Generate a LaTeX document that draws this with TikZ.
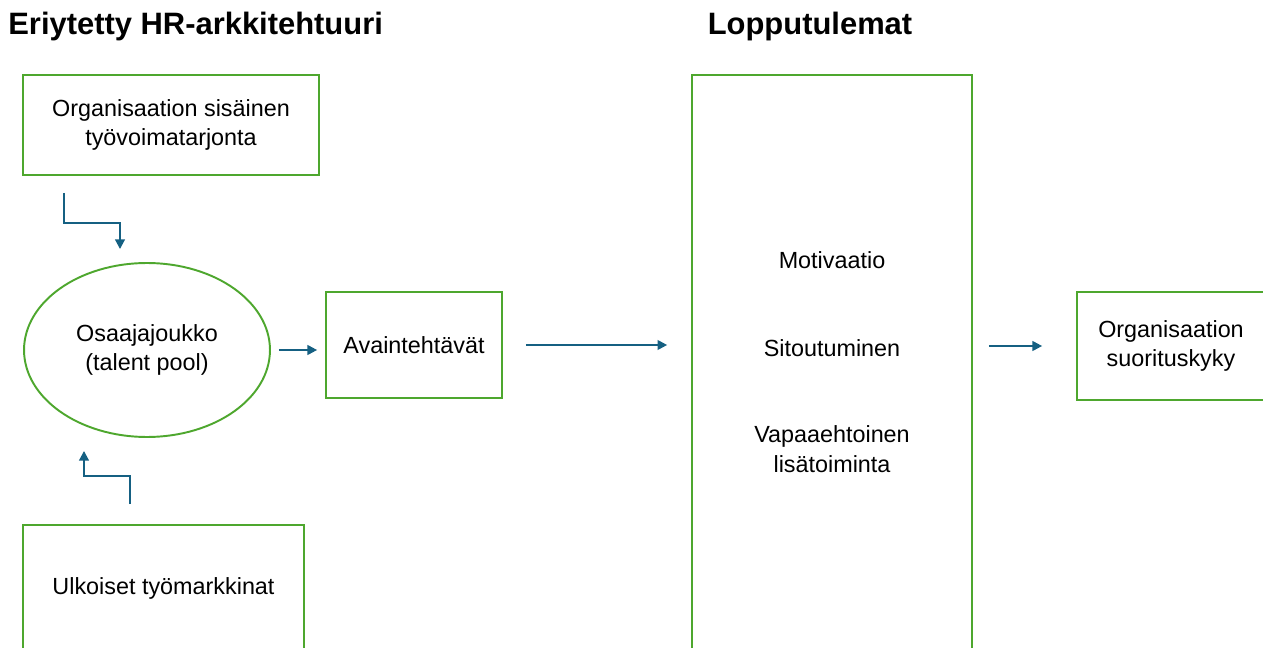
\documentclass[tikz,border=0pt]{standalone}
\usepackage{fontspec}
\setmainfont{Liberation Sans}
\usetikzlibrary{arrows.meta, positioning, shapes.geometric, calc}

\definecolor{boxgreen}{HTML}{4EA72E}
\definecolor{flowblue}{HTML}{156082}

\begin{document}
\begin{tikzpicture}[
    x=0.02cm, y=-0.02cm,
    >={Triangle[length=5.5pt, width=5.5pt]},
    greenbox/.style={draw=boxgreen, line width=1.1pt, inner sep=0pt,
                     align=center, font=\fontsize{13.3}{17}\selectfont},
    label/.style={inner sep=0pt, align=center,
                  font=\fontsize{13.3}{17}\selectfont},
    heading/.style={inner sep=0pt, font=\fontsize{17.6}{21}\selectfont\bfseries},
    flow/.style={->, draw=flowblue, line width=1.15pt}
  ]
  \useasboundingbox (0,0) rectangle (1263,648);
  \clip (0,0) rectangle (1263,648);

  % headings
  \node[heading, anchor=west] (hrtitle) at (8,27) {Eriytetty HR-arkkitehtuuri};
  \node[heading] (outtitle) at (810,27) {Lopputulemat};

  % left column
  \node[greenbox, minimum width=5.92cm, minimum height=2cm] (inner)
    at (171,125) {Organisaation sisäinen\\työvoimatarjonta};
  \node[greenbox, ellipse, minimum width=4.92cm, minimum height=3.48cm] (pool)
    at (147,350) {Osaajajoukko\\(talent pool)};
  \node[greenbox, minimum width=5.62cm, minimum height=2.52cm] (ext)
    at (163.5,588) {Ulkoiset työmarkkinat};

  \node[greenbox, minimum width=3.52cm, minimum height=2.12cm] (avain)
    at (414,345) {Avaintehtävät};

  % outcomes
  \node[greenbox, minimum width=5.6cm, minimum height=12.4cm] (results)
    at (832,385) {};
  \node[label] (mot) at (832,260) {Motivaatio};
  \node[label] (sit) at (832,348) {Sitoutuminen};
  \node[label] (vap) at (832,449) {Vapaaehtoinen\\lisätoiminta};

  \node[greenbox, minimum width=3.76cm, minimum height=2.16cm] (perf)
    at (1171,346) {Organisaation\\suorituskyky};

  % connectors
  \draw[flow] ([shift={(42,17)}]inner.south west) -- ++(0,30)
    -| ([shift={(-27,-13)}]pool.north);
  \draw[flow] ([shift={(-33.5,-20)}]ext.north) -- ++(0,-28)
    -| ([shift={(-63,13)}]pool.south);
  \draw[flow, shorten <=4.5pt, shorten >=4.5pt]
    (pool.east) -- (pool.east -| avain.west);
  \draw[flow, shorten <=13pt, shorten >=13.6pt]
    (avain.east) -- (avain.east -| results.west);
  \draw[flow, shorten <=9pt, shorten >=19.3pt]
    (results.east |- perf.west) -- (perf.west);
\end{tikzpicture}
\end{document}
